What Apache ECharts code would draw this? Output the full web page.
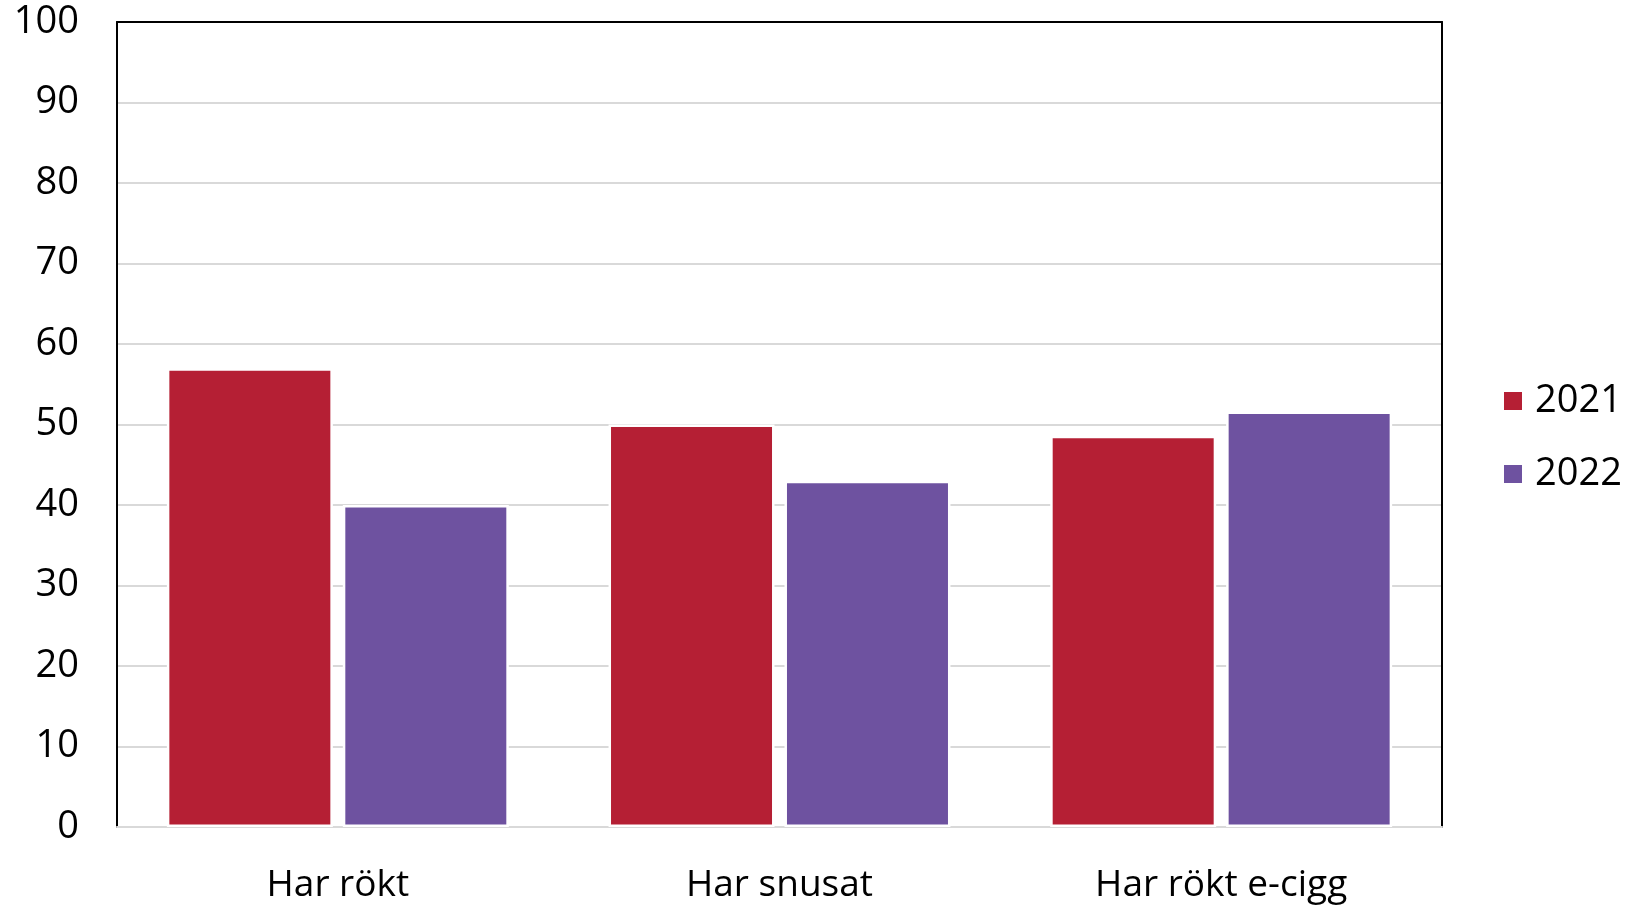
<!DOCTYPE html>
<html>
<head>
<meta charset="utf-8">
<script src="https://cdn.jsdelivr.net/npm/echarts@6/dist/echarts.min.js"></script>
<style>
html,body{margin:0;padding:0;background:#fff;}
#chart{width:1629px;height:906px;}
</style>
</head>
<body>
<div id="chart"></div>
<script>
const categories = ['Har rökt', 'Har snusat', 'Har rökt e-cigg'];
const values2021 = [57, 50, 48.6];
const values2022 = [40, 43, 51.6];
const seriesNames = ['2021', '2022'];

const FONT = '"Open Sans", "Noto Sans", sans-serif';
const chart = echarts.init(document.getElementById('chart'), null, {renderer: 'canvas'});
chart.setOption({
  animation: false,
  backgroundColor: '#ffffff',
  textStyle: {fontFamily: FONT},
  grid: {left: 117, right: 187, top: 22, bottom: 79, containLabel: false},
  legend: {
    orient: 'vertical',
    left: 1497,
    top: 376,
    itemWidth: 20,
    itemHeight: 20,
    itemGap: 33,
    icon: 'rect',
    data: seriesNames,
    textStyle: {fontFamily: FONT, fontSize: 38, color: '#000', lineHeight: 40, padding: [0, 0, 0, 7]}
  },
  xAxis: [{
    type: 'category',
    position: 'bottom',
    data: categories,
    axisLine: {show: true, onZero: false, lineStyle: {color: '#d9d9d9', width: 2}},
    axisTick: {show: false},
    axisLabel: {fontFamily: FONT, fontSize: 37, color: '#000', margin: 40}
  }, {
    type: 'category',
    position: 'top',
    data: categories,
    axisLine: {show: true, onZero: false, lineStyle: {color: '#000', width: 2}},
    axisTick: {show: false},
    axisLabel: {show: false}
  }],
  yAxis: [{
    type: 'value',
    position: 'left',
    min: 0, max: 100, interval: 10,
    axisLine: {show: true, onZero: false, lineStyle: {color: '#000', width: 2}},
    axisTick: {show: false},
    splitLine: {show: true, lineStyle: {color: '#d9d9d9', width: 2}},
    axisLabel: {fontFamily: FONT, fontSize: 38, color: '#000', margin: 38}
  }, {
    type: 'value',
    position: 'right',
    min: 0, max: 100, interval: 10,
    axisLine: {show: true, onZero: false, lineStyle: {color: '#000', width: 2}},
    axisTick: {show: false},
    splitLine: {show: false},
    axisLabel: {show: false}
  }],
  series: [{
    name: seriesNames[0],
    type: 'bar',
    data: values2021,
    barWidth: 166,
    barGap: '6%',
    itemStyle: {color: '#B51F34', borderColor: '#ffffff', borderWidth: 2.5}
  }, {
    name: seriesNames[1],
    type: 'bar',
    data: values2022,
    barWidth: 166,
    barGap: '6%',
    itemStyle: {color: '#6E52A0', borderColor: '#ffffff', borderWidth: 2.5}
  }]
});
</script>
</body>
</html>
